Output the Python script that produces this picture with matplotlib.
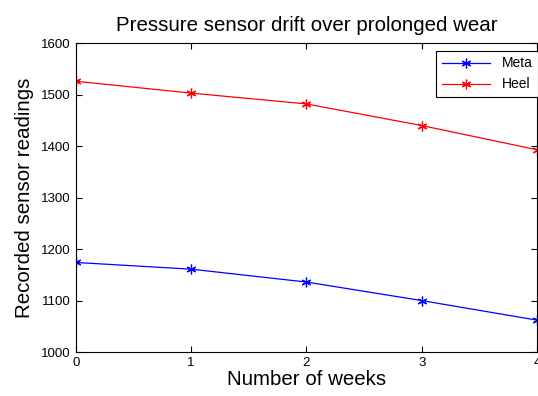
import matplotlib
matplotlib.use("Agg")
import matplotlib.pyplot as plt

plt.rcParams['font.family'] = ['Liberation Sans', 'DejaVu Sans']

weeks = [0, 1, 2, 3, 4]
meta = [1174, 1161, 1136, 1100, 1062]
heel = [1526, 1503, 1482, 1440, 1393]

fig = plt.figure(figsize=(5.38, 3.96), dpi=100)
ax = fig.add_axes([0.141, 0.111, 0.857, 0.780])

# MATLAB style asterisk markers
star = (6, 2, 0)
ax.plot(weeks, meta, color='blue', marker=star, markersize=7, markeredgewidth=0.9,
        linewidth=0.9, label='Meta')
ax.plot(weeks, heel, color='red', marker=star, markersize=7, markeredgewidth=0.9,
        linewidth=0.9, label='Heel')

ax.set_xlim(0, 4)
ax.set_ylim(1000, 1600)
ax.set_xticks([0, 1, 2, 3, 4])
ax.set_yticks([1000, 1100, 1200, 1300, 1400, 1500, 1600])
ax.tick_params(direction='in', top=True, right=True, labelsize=9.5, length=4)
ax.set_title('Pressure sensor drift over prolonged wear', fontsize=14.8, pad=9)
ax.set_xlabel('Number of weeks', fontsize=14.8, labelpad=1)
ax.set_ylabel('Recorded sensor readings', fontsize=14.8, labelpad=5)

leg = ax.legend(loc='upper right', fontsize=10, fancybox=False, framealpha=1,
                edgecolor='black', bbox_to_anchor=(1.002, 0.975), borderaxespad=0,
                handlelength=3.5, labelspacing=0.5)
leg.get_frame().set_linewidth(0.8)

fig.savefig('out.png', dpi=100)
